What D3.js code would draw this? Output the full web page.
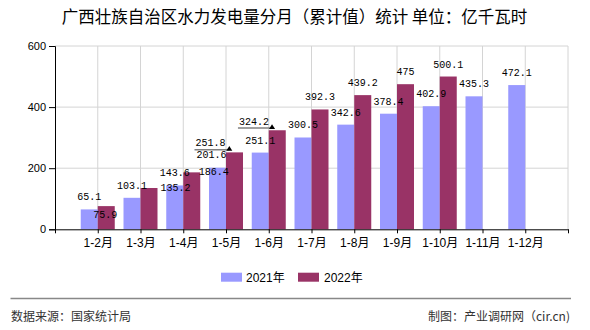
<!DOCTYPE html>
<html>
<head>
<meta charset="utf-8">
<script src="https://cdn.jsdelivr.net/npm/d3@7/dist/d3.min.js"></script>
<style>
  html, body { margin: 0; padding: 0; background: #fff; }
  svg { display: block; }
</style>
</head>
<body>
<svg id="chart" width="590" height="330"></svg>
<script>
// ---- data ----
const categories = ["1-2月","1-3月","1-4月","1-5月","1-6月","1-7月","1-8月","1-9月","1-10月","1-11月","1-12月"];
const values2021 = [65.1, 103.1, 143.6, 201.6, 251.1, 300.5, 342.6, 378.4, 402.9, 435.3, 472.1];
const values2022 = [75.9, 135.2, 186.4, 251.8, 324.2, 392.3, 439.2, 475, 500.1, null, null];
const seriesNames = ["2021年", "2022年"];
const yTickValues = [0, 200, 400, 600];
const titleText = "广西壮族自治区水力发电量分月（累计值）统计 单位：亿千瓦时";
const sourceText = "数据来源：国家统计局";
const creditText = "制图：产业调研网（cir.cn)";

// ---- styling / layout ----
const colors = ["#9999FF", "#993366"];
const plotLeft = 55, plotRight = 568, plotTop = 46, plotBottom = 229.3;
const barW = 17;
// label nudges (overlap avoidance in the original rendering)
const labelAdjust = {
  "1-0": {dx: -1, dy: 20.6},
  "1-1": {dx: 26.6, dy: 12},
  "1-2": {dx: 22, dy: 12},
  "1-3": {dx: -24, dy: 2.8, leader: true},
  "1-4": {dx: -23.3, dy: 3.3, leader: true},
  "0-3": {dx: -6, dy: -0.7}
};

const svg = d3.select("#chart");
const x = d3.scaleLinear().domain([0, categories.length + 1]).range([plotLeft, plotRight]);
const y = d3.scaleLinear().domain([0, 600]).range([plotBottom, plotTop]);

// title
svg.append("text")
  .attr("x", 294.5).attr("y", 23)
  .attr("text-anchor", "middle")
  .attr("font-family", "'Noto Sans CJK SC', sans-serif")
  .attr("font-size", "16.5px")
  .attr("fill", "#000")
  .text(titleText);

// grid
const grid = svg.append("g");
grid.selectAll("line.h").data(yTickValues.filter(v => v > 0)).join("line")
  .attr("x1", plotLeft).attr("x2", plotRight)
  .attr("y1", d => y(d)).attr("y2", d => y(d))
  .attr("stroke", "#d4d4d4").attr("stroke-width", 1);
grid.selectAll("line.v").data(d3.range(1, categories.length + 2)).join("line")
  .attr("x1", d => x(d)).attr("x2", d => x(d))
  .attr("y1", plotTop).attr("y2", plotBottom)
  .attr("stroke", "#d4d4d4").attr("stroke-width", 1);

// bars
const series = [values2021, values2022];
series.forEach((vals, s) => {
  svg.append("g").selectAll("rect").data(vals.map((v, i) => ({v, i})).filter(d => d.v != null)).join("rect")
    .attr("x", d => s === 0 ? x(d.i + 1) - barW : x(d.i + 1))
    .attr("y", d => y(d.v))
    .attr("width", barW)
    .attr("height", d => y(0) - y(d.v))
    .attr("fill", colors[s]);
});

// axes
const yAxis = d3.axisLeft(y).tickValues(yTickValues).tickSize(6).tickPadding(3).tickFormat(d3.format("d"));
const gy = svg.append("g").attr("transform", `translate(${plotLeft},0)`).call(yAxis);
gy.select(".domain").attr("stroke", "#000");
gy.selectAll(".tick line").attr("stroke", "#000");
gy.selectAll("text").attr("font-family", "'Liberation Sans', Arial, sans-serif").attr("font-size", "11px").attr("fill", "#000");

const xAxis = d3.axisBottom(x).tickValues(d3.range(0, categories.length + 2)).tickSize(4).tickSizeOuter(0)
  .tickFormat(d => (d >= 1 && d <= categories.length) ? categories[d - 1] : "");
const gx = svg.append("g").attr("transform", `translate(0,${plotBottom})`).call(xAxis);
gx.select(".domain").attr("stroke", "#000");
gx.selectAll(".tick line").attr("stroke", "#000");
gx.selectAll("text").attr("font-family", "'Liberation Sans', 'Noto Sans CJK SC', sans-serif")
  .attr("font-size", "12px").attr("fill", "#000").attr("y", 9).attr("dy", "0.71em");

// value labels
const labelG = svg.append("g");
series.forEach((vals, s) => {
  vals.forEach((v, i) => {
    if (v == null) return;
    const adj = labelAdjust[`${s}-${i}`] || {dx: 0, dy: 0};
    const cx = (s === 0 ? x(i + 1) - barW / 2 : x(i + 1) + barW / 2) + adj.dx;
    const by = y(v) - 9 + adj.dy;
    labelG.append("text")
      .attr("x", cx).attr("y", by)
      .attr("text-anchor", "middle")
      .attr("font-family", "'Liberation Mono', 'DejaVu Sans Mono', monospace")
      .attr("font-size", "10px")
      .attr("fill", "#000")
      .text(String(v));
    if (adj.leader) {
      const w = String(v).length * 6;
      const lx1 = cx - w / 2 - 1;
      const barLeft = s === 0 ? x(i + 1) - barW : x(i + 1);
      const ax = barLeft + 3.3;
      const ly = by + 3.5;
      labelG.append("line")
        .attr("x1", lx1).attr("x2", ax).attr("y1", ly).attr("y2", ly)
        .attr("stroke", "#808080").attr("stroke-width", 1.6);
      labelG.append("path")
        .attr("d", `M${ax - 3},${ly + 1} L${ax + 3},${ly + 1} L${ax},${ly - 3.7} Z`)
        .attr("fill", "#000");
    }
  });
});

// legend
const legend = svg.append("g");
const legendItems = [{x: 221, tx: 246}, {x: 298, tx: 324}];
seriesNames.forEach((name, s) => {
  legend.append("rect").attr("x", legendItems[s].x).attr("y", 272.7).attr("width", 21).attr("height", 9).attr("fill", colors[s]);
  legend.append("text").attr("x", legendItems[s].tx).attr("y", 281.5)
    .attr("font-family", "'Liberation Sans', 'Noto Sans CJK SC', sans-serif")
    .attr("font-size", "12px").attr("fill", "#000").text(name);
});

// footer
svg.append("line").attr("x1", 10.5).attr("x2", 571).attr("y1", 298.5).attr("y2", 298.5)
  .attr("stroke", "#888").attr("stroke-width", 1.5);
svg.append("text").attr("x", 11).attr("y", 321)
  .attr("font-family", "'Noto Sans CJK SC', sans-serif").attr("font-size", "12px").attr("fill", "#333")
  .text(sourceText);
svg.append("text").attr("x", 570).attr("y", 321).attr("text-anchor", "end")
  .attr("font-family", "'Noto Sans CJK SC', sans-serif").attr("font-size", "12px").attr("fill", "#333")
  .text(creditText);
</script>
</body>
</html>
